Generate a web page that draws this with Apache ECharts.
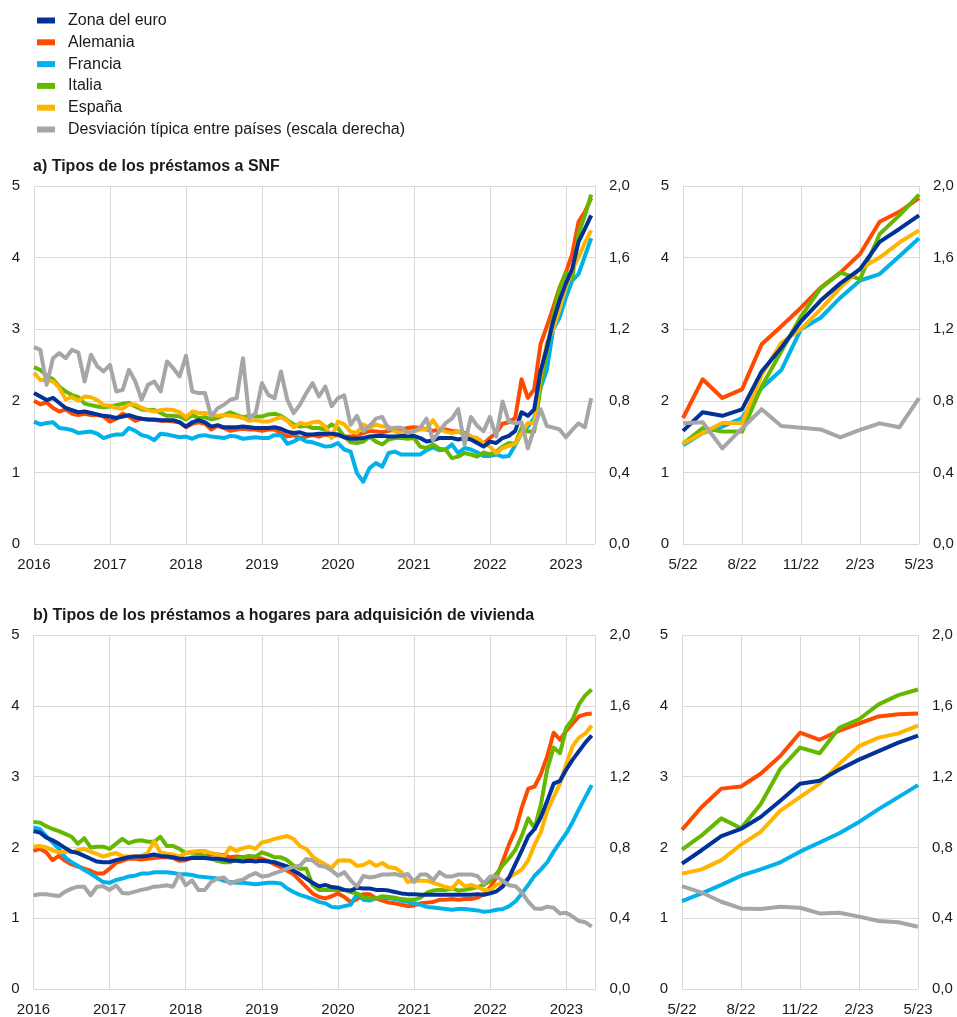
<!DOCTYPE html>
<html>
<head>
<meta charset="utf-8">
<script src="https://cdn.jsdelivr.net/npm/echarts@6/dist/echarts.min.js"></script>
<style>
  html, body { margin: 0; padding: 0; background: #fff; }
  #chart { width: 957px; height: 1017px; }
</style>
</head>
<body>
<div id="chart"></div>
<script>
// ---------- labels ----------
const seriesNames = ['Zona del euro', 'Alemania', 'Francia', 'Italia', 'España', 'Desviación típica entre países (escala derecha)'];
const yearLabels = ['2016', '2017', '2018', '2019', '2020', '2021', '2022', '2023'];
const recentLabels = ['5/22', '8/22', '11/22', '2/23', '5/23'];
const rightTickLabels = ['0,0', '0,4', '0,8', '1,2', '1,6', '2,0'];
const titleA = 'a) Tipos de los préstamos a SNF';
const titleB = 'b) Tipos de los préstamos a hogares para adquisición de vivienda';
const recentStart = 76; // May 2022 (months since Jan 2016)

// ---------- a) loans to NFCs, monthly Jan 2016 - May 2023 ----------
const euroA = [2.11, 2.06, 2.01, 2.04, 1.97, 1.90, 1.87, 1.84, 1.85, 1.83, 1.81, 1.79,
  1.78, 1.76, 1.78, 1.80, 1.77, 1.75, 1.74, 1.74, 1.73, 1.73, 1.73, 1.70,
  1.64, 1.70, 1.73, 1.70, 1.64, 1.66, 1.63, 1.63, 1.63, 1.64, 1.63, 1.62,
  1.62, 1.62, 1.63, 1.61, 1.57, 1.55, 1.56, 1.53, 1.53, 1.54,
  1.54, 1.54, 1.53, 1.49, 1.47, 1.47, 1.48, 1.50, 1.51, 1.51, 1.50, 1.50, 1.51, 1.51, 1.51,
  1.48, 1.43, 1.45, 1.48, 1.48, 1.48, 1.46, 1.48, 1.46, 1.41, 1.36, 1.43, 1.41, 1.48, 1.51,
  1.58, 1.84, 1.79, 1.88, 2.41, 2.74, 3.11, 3.40, 3.64, 3.84, 4.22, 4.40, 4.59];
const deA = [2.00, 1.95, 1.98, 1.90, 1.85, 1.88, 1.82, 1.80, 1.82, 1.80, 1.80, 1.78,
  1.71, 1.75, 1.82, 1.78, 1.72, 1.75, 1.74, 1.73, 1.72, 1.72, 1.71, 1.70,
  1.63, 1.68, 1.70, 1.68, 1.60, 1.65, 1.62, 1.58, 1.60, 1.61, 1.60, 1.60,
  1.58, 1.60, 1.60, 1.55, 1.50, 1.52, 1.48, 1.50, 1.52, 1.50,
  1.53, 1.51, 1.52, 1.50, 1.50, 1.52, 1.55, 1.58, 1.57, 1.56, 1.58, 1.60, 1.60, 1.62, 1.63,
  1.62, 1.60, 1.58, 1.60, 1.60, 1.58, 1.57, 1.55, 1.50, 1.45, 1.40, 1.48, 1.55, 1.68, 1.70,
  1.76, 2.30, 2.04, 2.16, 2.79, 3.04, 3.30, 3.58, 3.79, 4.05, 4.50, 4.64, 4.83];
const frA = [1.71, 1.67, 1.69, 1.70, 1.62, 1.61, 1.59, 1.55, 1.56, 1.57, 1.54, 1.48,
  1.51, 1.53, 1.53, 1.62, 1.58, 1.52, 1.50, 1.45, 1.54, 1.53, 1.51, 1.49,
  1.50, 1.47, 1.51, 1.52, 1.50, 1.49, 1.48, 1.51, 1.50, 1.47, 1.48, 1.49,
  1.48, 1.48, 1.52, 1.52, 1.40, 1.43, 1.48, 1.43, 1.42,
  1.39, 1.36, 1.37, 1.41, 1.32, 1.29, 0.99, 0.87, 1.06, 1.13, 1.08, 1.27, 1.29, 1.25, 1.25, 1.25,
  1.25, 1.31, 1.35, 1.31, 1.32, 1.39, 1.27, 1.34, 1.32, 1.28, 1.23, 1.23, 1.25, 1.22, 1.23,
  1.38, 1.55, 1.64, 1.76, 2.18, 2.43, 3.00, 3.16, 3.44, 3.68, 3.77, 4.02, 4.27];
const itA = [2.47, 2.43, 2.35, 2.30, 2.20, 2.13, 2.08, 2.05, 1.96, 1.94, 1.92, 1.91,
  1.92, 1.94, 1.96, 1.97, 1.92, 1.88, 1.87, 1.87, 1.83, 1.79, 1.79, 1.78,
  1.74, 1.80, 1.76, 1.77, 1.74, 1.76, 1.80, 1.84, 1.80, 1.77, 1.79, 1.78,
  1.78, 1.81, 1.82, 1.79, 1.73, 1.67, 1.64, 1.65, 1.62,
  1.62, 1.60, 1.67, 1.62, 1.50, 1.42, 1.41, 1.43, 1.50, 1.43, 1.39, 1.46, 1.48, 1.48, 1.47, 1.48,
  1.36, 1.34, 1.39, 1.33, 1.32, 1.20, 1.22, 1.27, 1.25, 1.22, 1.28, 1.25, 1.29, 1.36, 1.41,
  1.40, 1.62, 1.57, 1.57, 2.20, 2.69, 3.18, 3.57, 3.79, 3.70, 4.33, 4.59, 4.88];
const esA = [2.39, 2.29, 2.29, 2.27, 2.18, 2.02, 2.05, 2.00, 2.06, 2.05, 2.01, 1.94,
  1.93, 1.90, 1.89, 1.95, 1.95, 1.90, 1.87, 1.85, 1.87, 1.88, 1.87, 1.84,
  1.77, 1.85, 1.83, 1.83, 1.81, 1.79, 1.80, 1.79, 1.78, 1.76, 1.72, 1.73,
  1.71, 1.71, 1.74, 1.77, 1.72, 1.63, 1.69, 1.67, 1.70,
  1.71, 1.64, 1.48, 1.71, 1.67, 1.57, 1.55, 1.67, 1.62, 1.67, 1.64, 1.64, 1.57, 1.55, 1.56, 1.57,
  1.60, 1.60, 1.73, 1.60, 1.57, 1.55, 1.57, 1.53, 1.50, 1.48, 1.41, 1.36, 1.27, 1.34, 1.37,
  1.40, 1.55, 1.69, 1.69, 2.36, 2.81, 3.00, 3.28, 3.58, 3.84, 4.00, 4.21, 4.38];
const sdA = [1.10, 1.085, 0.889, 1.038, 1.066, 1.038, 1.085, 1.07, 0.908, 1.057, 0.992, 0.964,
  1.001, 0.852, 0.861, 0.973, 0.908, 0.806, 0.889, 0.908, 0.852, 1.02, 0.982, 0.936,
  1.051, 0.852, 0.843, 0.843, 0.713, 0.759, 0.778, 0.806, 0.815, 1.038, 0.703, 0.731,
  0.899, 0.833, 0.815, 0.964, 0.806, 0.731, 0.778, 0.843, 0.899, 0.824,
  0.88, 0.77, 0.815, 0.83, 0.666, 0.716, 0.63, 0.66, 0.70, 0.71, 0.64, 0.65, 0.65, 0.62, 0.63,
  0.65, 0.70, 0.58, 0.63, 0.675, 0.70, 0.754, 0.555, 0.71, 0.66, 0.63, 0.71, 0.60, 0.796, 0.684,
  0.674, 0.68, 0.534, 0.646, 0.753, 0.659, 0.650, 0.640, 0.596, 0.637, 0.674, 0.652, 0.815];

// ---------- b) loans to households for house purchase ----------
const euroB = [2.23, 2.21, 2.14, 2.10, 2.05, 1.99, 1.94, 1.92, 1.88, 1.84, 1.80, 1.79,
  1.79, 1.82, 1.84, 1.86, 1.87, 1.87, 1.88, 1.90, 1.88, 1.87, 1.86, 1.84,
  1.84, 1.85, 1.85, 1.85, 1.84, 1.84, 1.83, 1.81, 1.81, 1.80, 1.81, 1.80,
  1.81, 1.80, 1.79, 1.76, 1.73, 1.67, 1.62, 1.56, 1.50, 1.45,
  1.47, 1.44, 1.43, 1.40, 1.39, 1.43, 1.42, 1.42, 1.40, 1.40, 1.39, 1.37, 1.35, 1.34, 1.34,
  1.33, 1.33, 1.33, 1.33, 1.33, 1.33, 1.33, 1.33, 1.33, 1.34, 1.33, 1.35, 1.38, 1.45, 1.58,
  1.77, 1.96, 2.16, 2.26, 2.43, 2.66, 2.90, 2.94, 3.10, 3.24, 3.36, 3.48, 3.58];
const deB = [1.95, 1.98, 1.93, 1.82, 1.88, 1.81, 1.76, 1.73, 1.70, 1.67, 1.63, 1.63,
  1.70, 1.78, 1.81, 1.84, 1.84, 1.83, 1.84, 1.85, 1.86, 1.86, 1.85, 1.81,
  1.82, 1.86, 1.86, 1.88, 1.90, 1.90, 1.89, 1.86, 1.87, 1.86, 1.84, 1.86,
  1.84, 1.81, 1.76, 1.72, 1.67, 1.62, 1.53, 1.44, 1.35, 1.30,
  1.28, 1.31, 1.35, 1.30, 1.23, 1.27, 1.34, 1.34, 1.28, 1.25, 1.22, 1.21, 1.19, 1.17, 1.18,
  1.21, 1.22, 1.23, 1.26, 1.26, 1.27, 1.26, 1.27, 1.27, 1.29, 1.34, 1.44, 1.58, 1.81, 2.05,
  2.25, 2.57, 2.83, 2.86, 3.04, 3.29, 3.62, 3.52, 3.65, 3.75, 3.85, 3.88, 3.89];
const frB = [2.28, 2.26, 2.16, 2.07, 1.98, 1.86, 1.79, 1.74, 1.68, 1.63, 1.57, 1.51,
  1.50, 1.54, 1.56, 1.59, 1.60, 1.63, 1.63, 1.65, 1.65, 1.65, 1.64, 1.62,
  1.62, 1.61, 1.59, 1.58, 1.57, 1.56, 1.53, 1.51, 1.50, 1.50, 1.49, 1.48,
  1.49, 1.50, 1.50, 1.49, 1.42, 1.37, 1.33, 1.30, 1.27, 1.23,
  1.21, 1.16, 1.15, 1.17, 1.19, 1.34, 1.26, 1.25, 1.28, 1.29, 1.28, 1.27, 1.25, 1.23, 1.21,
  1.19, 1.16, 1.15, 1.14, 1.13, 1.12, 1.13, 1.13, 1.12, 1.11, 1.09, 1.10, 1.12, 1.13, 1.17,
  1.24, 1.35, 1.47, 1.60, 1.69, 1.79, 1.94, 2.07, 2.20, 2.36, 2.54, 2.71, 2.88];
const itB = [2.36, 2.35, 2.30, 2.26, 2.23, 2.19, 2.15, 2.05, 2.13, 2.00, 2.01, 2.01,
  1.98, 2.05, 2.12, 2.06, 2.09, 2.10, 2.08, 2.08, 2.15, 2.02, 2.02, 1.98,
  1.92, 1.93, 1.91, 1.88, 1.84, 1.81, 1.79, 1.79, 1.84, 1.86, 1.88, 1.87,
  1.93, 1.90, 1.86, 1.86, 1.82, 1.74, 1.70, 1.70, 1.47, 1.40,
  1.40, 1.40, 1.40, 1.40, 1.37, 1.35, 1.30, 1.28, 1.28, 1.31, 1.30, 1.29, 1.27, 1.26, 1.26,
  1.29, 1.36, 1.39, 1.40, 1.40, 1.42, 1.39, 1.40, 1.42, 1.44, 1.47, 1.53, 1.63, 1.75, 1.85,
  1.97, 2.17, 2.41, 2.27, 2.61, 3.11, 3.41, 3.33, 3.69, 3.81, 4.02, 4.15, 4.23];
const esB = [2.01, 2.02, 2.00, 1.96, 1.93, 1.94, 1.93, 1.96, 1.98, 1.94, 1.91, 1.87,
  1.90, 1.92, 1.88, 1.87, 1.87, 1.88, 1.92, 2.09, 1.93, 1.91, 1.90, 1.87,
  1.92, 1.94, 1.95, 1.95, 1.92, 1.90, 1.87, 2.00, 1.95, 1.99, 2.01, 1.98,
  2.07, 2.09, 2.12, 2.14, 2.16, 2.12, 2.02, 1.98, 1.87, 1.81,
  1.76, 1.71, 1.81, 1.82, 1.81, 1.74, 1.75, 1.80, 1.74, 1.78, 1.72, 1.71, 1.65, 1.51, 1.53,
  1.53, 1.53, 1.50, 1.47, 1.44, 1.42, 1.53, 1.45, 1.47, 1.44, 1.40, 1.40, 1.47, 1.50, 1.58,
  1.63, 1.69, 1.82, 2.04, 2.22, 2.52, 2.71, 2.90, 3.18, 3.43, 3.55, 3.61, 3.72];
const sdB = [0.53, 0.535, 0.535, 0.53, 0.525, 0.55, 0.567, 0.578, 0.578, 0.53, 0.578, 0.58,
  0.56, 0.586, 0.543, 0.54, 0.55, 0.56, 0.567, 0.578, 0.58, 0.586, 0.578, 0.65,
  0.586, 0.614, 0.56, 0.56, 0.605, 0.623, 0.63, 0.595, 0.61, 0.617, 0.64, 0.655,
  0.636, 0.64, 0.655, 0.666, 0.68, 0.69,
  0.696, 0.735, 0.726, 0.696, 0.69, 0.67, 0.64, 0.66, 0.614, 0.578, 0.638, 0.63, 0.636, 0.647, 0.647,
  0.65, 0.64, 0.65, 0.605, 0.647, 0.647, 0.614, 0.66, 0.636, 0.636, 0.647, 0.647, 0.647, 0.638, 0.595,
  0.636, 0.636, 0.61, 0.586, 0.581,
  0.545, 0.493, 0.455, 0.452, 0.465, 0.459, 0.427, 0.431, 0.409, 0.384, 0.377, 0.352];

// ---------- styling ----------
const colors = ['#003299', '#FF4B00', '#00B1EA', '#65B800', '#FFB400', '#A6A6A6'];
const FONT = '"Liberation Sans", Arial, sans-serif';
const TXT = '#1a1a1a';
const GRIDC = '#d9d9d9';

const panelA = [euroA, deA, frA, itA, esA, sdA];
const panelB = [euroB, deB, frB, itB, esB, sdB];

const grids = [
  { left: 34, top: 186, width: 561, height: 358 },
  { left: 683, top: 186, width: 236, height: 358 },
  { left: 33.5, top: 635, width: 562, height: 358 },
  { left: 682, top: 635, width: 236, height: 357 }
];

function xLong(gi) {
  return {
    gridIndex: gi, type: 'value', min: 0, max: 88.6, interval: 12,
    axisLine: { show: false }, axisTick: { show: false },
    splitLine: { show: true, lineStyle: { color: GRIDC, width: 1 } },
    axisLabel: {
      fontSize: 15, color: TXT, fontFamily: FONT, margin: 13,
      formatter: v => (v % 12 === 0 ? yearLabels[v / 12] : '')
    }
  };
}
function xShort(gi) {
  return {
    gridIndex: gi, type: 'value', min: 0, max: 12, interval: 3,
    axisLine: { show: false }, axisTick: { show: false },
    splitLine: { show: true, lineStyle: { color: GRIDC, width: 1 } },
    axisLabel: {
      fontSize: 15, color: TXT, fontFamily: FONT, margin: 13,
      formatter: v => recentLabels[Math.round(v / 3)] || ''
    }
  };
}
function yLeft(gi) {
  return {
    gridIndex: gi, type: 'value', min: 0, max: 5, interval: 1, position: 'left',
    axisLine: { show: false }, axisTick: { show: false },
    splitLine: { show: true, lineStyle: { color: GRIDC, width: 1 } },
    axisLabel: { fontSize: 15, color: TXT, fontFamily: FONT, margin: 14 }
  };
}
function yRight(gi) {
  return {
    gridIndex: gi, type: 'value', min: 0, max: 2, interval: 0.4, position: 'right',
    axisLine: { show: false }, axisTick: { show: false },
    splitLine: { show: false },
    axisLabel: {
      fontSize: 15, color: TXT, fontFamily: FONT, margin: 14,
      formatter: v => rightTickLabels[Math.round(v / 0.4)]
    }
  };
}

const xAxes = [xLong(0), xShort(1), xLong(2), xShort(3)];
const yAxes = [yLeft(0), yRight(0), yLeft(1), yRight(1), yLeft(2), yRight(2), yLeft(3), yRight(3)];

// drawing order: Alemania, Francia, Italia, España, Zona del euro, desviación
const drawOrder = [1, 2, 3, 4, 0, 5];
const series = [];
[panelA, panelB].forEach((panel, p) => {
  const gLong = p * 2, gShort = p * 2 + 1;
  drawOrder.forEach(k => {
    const arr = panel[k];
    const right = (k === 5);
    series.push({
      name: seriesNames[k], type: 'line', symbol: 'none', silent: true,
      xAxisIndex: gLong, yAxisIndex: gLong * 2 + (right ? 1 : 0),
      data: arr.map((v, i) => [i, v]),
      lineStyle: { color: colors[k], width: 4, join: 'round' },
      itemStyle: { color: colors[k] }
    });
    series.push({
      name: seriesNames[k], type: 'line', symbol: 'none', silent: true,
      xAxisIndex: gShort, yAxisIndex: gShort * 2 + (right ? 1 : 0),
      data: arr.slice(recentStart).map((v, j) => [j, v]),
      lineStyle: { color: colors[k], width: 4, join: 'round' },
      itemStyle: { color: colors[k] }
    });
  });
});

const chart = echarts.init(document.getElementById('chart'), null, { renderer: 'canvas', width: 957, height: 1017 });
chart.setOption({
  animation: false,
  backgroundColor: '#ffffff',
  textStyle: { fontFamily: FONT },
  title: [
    { text: titleA, left: 28, top: 154, textStyle: { fontSize: 16, fontWeight: 'bold', color: TXT, fontFamily: FONT } },
    { text: titleB, left: 28, top: 603, textStyle: { fontSize: 16, fontWeight: 'bold', color: TXT, fontFamily: FONT } }
  ],
  legend: {
    orient: 'vertical', left: 32, top: 7.5, itemWidth: 18, itemHeight: 6, itemGap: 5.8,
    icon: 'rect', selectedMode: false, data: seriesNames,
    textStyle: { fontSize: 16, color: TXT, fontFamily: FONT, lineHeight: 16, padding: [0, 0, 0, 8] }
  },
  grid: grids,
  xAxis: xAxes,
  yAxis: yAxes,
  series: series
});
</script>
</body>
</html>
